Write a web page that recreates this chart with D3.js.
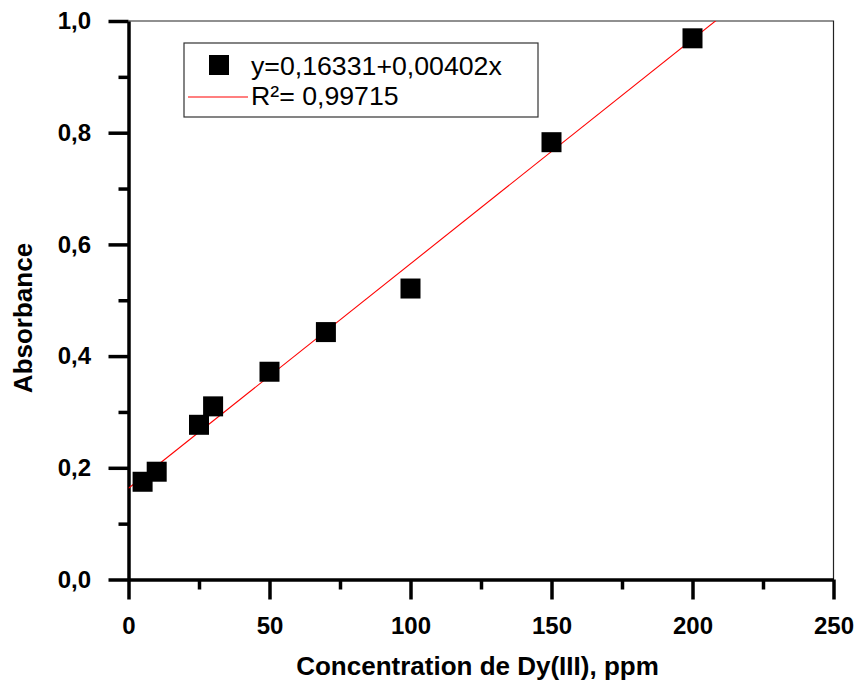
<!DOCTYPE html>
<meta charset="utf-8">
<style>
* { margin: 0; padding: 0; }
body { background: #fff; }
svg { display: block; font-family: "Liberation Sans", Arial, sans-serif; }
.tick text { font-size: 24px; font-weight: bold; fill: #000; }
.axis path, .axis line { stroke: #000; stroke-width: 3.5; }
.minor path { display: none; }
.minor line { stroke: #000; stroke-width: 3.5; }
.frame { fill: none; stroke: #222; stroke-width: 1.2; }
.fit { fill: none; stroke: #f00; stroke-width: 1.1; }
.pt { fill: #000; }
.legend-box { fill: #fff; stroke: #333; stroke-width: 1.2; }
.legend text { font-size: 26.7px; fill: #000; }
.title { font-size: 26px; font-weight: bold; fill: #000; }
</style>
<body>
<script src="https://cdn.jsdelivr.net/npm/d3@7"></script>
<script>

// data
var conc = [5, 10, 25, 30, 50, 70, 100, 150, 200];
var absorb = [0.175, 0.193, 0.277, 0.310, 0.372, 0.443, 0.521, 0.783, 0.969];

var fitIntercept = 0.16331,
    fitSlope = 0.00402;

var xTicks = [0, 50, 100, 150, 200, 250];
var xMinor = [25, 75, 125, 175, 225];
var yTicks = [0, 0.2, 0.4, 0.6, 0.8, 1.0];
var yTickLabels = ["0,0", "0,2", "0,4", "0,6", "0,8", "1,0"];
var yMinor = [0.1, 0.3, 0.5, 0.7, 0.9];

var legendLabels = ["y=0,16331+0,00402x", "R\u00b2= 0,99715"];

var width = 855,
    height = 690,
    plotLeft = 128.5,
    plotRight = 833.5,
    plotTop = 21,
    plotBottom = 579.5,
    markerSize = 20;

var x = d3.scaleLinear().domain([0, 250]).range([plotLeft, plotRight]);
var y = d3.scaleLinear().domain([0, 1]).range([plotBottom, plotTop]);

var svg = d3.select("body").append("svg")
    .attr("width", width)
    .attr("height", height);

svg.append("defs").append("clipPath").attr("id", "plot")
  .append("rect")
    .attr("x", plotLeft).attr("y", plotTop)
    .attr("width", plotRight - plotLeft).attr("height", plotBottom - plotTop);

// top / right thin frame
svg.append("path")
    .attr("class", "frame")
    .attr("d", "M" + plotLeft + "," + plotTop + "H" + plotRight + "V" + plotBottom);

// minor ticks
svg.append("g")
    .attr("class", "minor")
    .attr("transform", "translate(0," + plotBottom + ")")
    .call(d3.axisBottom(x).tickValues(xMinor).tickSize(10).tickFormat(""));

svg.append("g")
    .attr("class", "minor")
    .attr("transform", "translate(" + plotLeft + ",0)")
    .call(d3.axisLeft(y).tickValues(yMinor).tickSize(10).tickFormat(""));

// major axes
svg.append("g")
    .attr("class", "axis")
    .attr("transform", "translate(0," + plotBottom + ")")
    .call(d3.axisBottom(x).tickValues(xTicks).tickSize(20).tickSizeOuter(0).tickPadding(17.5));

svg.append("g")
    .attr("class", "axis")
    .attr("transform", "translate(" + plotLeft + ",0)")
    .call(d3.axisLeft(y).tickValues(yTicks).tickSize(20).tickSizeOuter(0).tickPadding(17.5)
        .tickFormat(function(d, i) { return yTickLabels[i]; }));

// linear fit
var fitLine = d3.line()
    .x(function(d) { return x(d); })
    .y(function(d) { return y(fitIntercept + fitSlope * d); });

svg.append("path")
    .datum([0, 250])
    .attr("class", "fit")
    .attr("clip-path", "url(#plot)")
    .attr("d", fitLine);

// points
svg.selectAll(".pt")
    .data(conc)
  .enter().append("rect")
    .attr("class", "pt")
    .attr("x", function(d) { return x(d) - markerSize / 2; })
    .attr("y", function(d, i) { return y(absorb[i]) - markerSize / 2; })
    .attr("width", markerSize)
    .attr("height", markerSize);

// legend
var lg = svg.append("g").attr("class", "legend");

lg.append("rect")
    .attr("class", "legend-box")
    .attr("x", 184).attr("y", 43)
    .attr("width", 354).attr("height", 74);

lg.append("rect")
    .attr("class", "pt")
    .attr("x", 219 - markerSize / 2).attr("y", 65 - markerSize / 2)
    .attr("width", markerSize).attr("height", markerSize);

lg.append("line")
    .attr("class", "fit")
    .attr("x1", 188).attr("x2", 248)
    .attr("y1", 97).attr("y2", 97);

lg.selectAll("text")
    .data(legendLabels)
  .enter().append("text")
    .attr("x", 251)
    .attr("y", function(d, i) { return 75 + i * 30; })
    .text(function(d) { return d; });

// axis titles
svg.append("text")
    .attr("class", "title")
    .attr("x", 477.5)
    .attr("y", 675)
    .attr("text-anchor", "middle")
    .text("Concentration de Dy(III), ppm");

svg.append("text")
    .attr("class", "title")
    .attr("transform", "translate(32,318) rotate(-90)")
    .attr("text-anchor", "middle")
    .text("Absorbance");

</script>
</body>
